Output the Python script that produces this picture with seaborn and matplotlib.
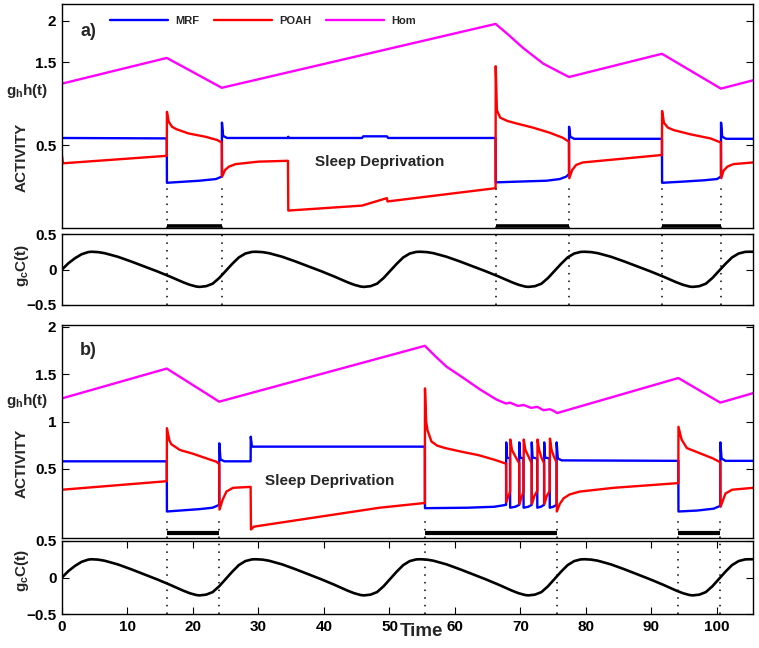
import pandas as pd
import matplotlib
matplotlib.use('Agg')
import matplotlib.pyplot as plt
import seaborn as sns

# ---------------------------------------------------------------
# values, (time, value) pairs
# ---------------------------------------------------------------

# circadian drive g_c C(t) (same in both panels)
circ = [(0, 0.0), (1, 0.09), (2, 0.16), (3, 0.215), (4, 0.245), (4.5, 0.25), (5.5, 0.245), (6.5, 0.23),
        (8.5, 0.18), (10.5, 0.115), (12.5, 0.045), (14.5, -0.025), (16.5, -0.10), (18.5, -0.18),
        (19.5, -0.215), (20.5, -0.24), (21.0, -0.245), (22.0, -0.235), (23.0, -0.20), (24.0, -0.12),
        (25.0, -0.02), (26.0, 0.08), (27.0, 0.17), (28.0, 0.225), (29.0, 0.248), (29.6, 0.25),
        (30.6, 0.245), (31.6, 0.23), (33.6, 0.18), (35.6, 0.115), (37.6, 0.045), (39.6, -0.025),
        (41.6, -0.10), (43.6, -0.18), (44.6, -0.215), (45.6, -0.24), (46.1, -0.245), (47.1, -0.235),
        (48.1, -0.20), (49.1, -0.12), (50.1, -0.02), (51.1, 0.08), (52.1, 0.17), (53.1, 0.225),
        (54.1, 0.248), (54.7, 0.25), (55.7, 0.245), (56.7, 0.23), (58.7, 0.18), (60.7, 0.115),
        (62.7, 0.045), (64.7, -0.025), (66.7, -0.10), (68.7, -0.18), (69.7, -0.215), (70.7, -0.24),
        (71.2, -0.245), (72.2, -0.235), (73.2, -0.20), (74.2, -0.12), (75.2, -0.02), (76.2, 0.08),
        (77.2, 0.17), (78.2, 0.225), (79.2, 0.248), (79.8, 0.25), (80.8, 0.245), (81.8, 0.23),
        (83.8, 0.18), (85.8, 0.115), (87.8, 0.045), (89.8, -0.025), (91.8, -0.10), (93.8, -0.18),
        (94.8, -0.215), (95.8, -0.24), (96.3, -0.245), (97.3, -0.235), (98.3, -0.20), (99.3, -0.12),
        (100.3, -0.02), (101.3, 0.08), (102.3, 0.17), (103.3, 0.225), (104.3, 0.248), (104.9, 0.25),
        (105.5, 0.25)]

# panel a)
a_hom = [(0, 1.24), (16.0, 1.55), (24.4, 1.19), (66.2, 1.96), (68.0, 1.84), (70.4, 1.67),
         (73.5, 1.48), (77.4, 1.32), (91.6, 1.60), (100.6, 1.18), (105.5, 1.28)]

a_mrf = [(0, 0.585), (16.0, 0.58), (16.02, 0.045), (18, 0.055), (21, 0.07), (23.5, 0.09), (24.4, 0.12),
         (24.42, 0.77), (24.6, 0.61), (25.2, 0.585), (34.5, 0.585), (34.55, 0.60), (34.6, 0.585),
         (45.8, 0.585), (46.0, 0.605), (49.6, 0.605), (49.8, 0.585), (66.2, 0.585), (66.22, 0.05),
         (70, 0.06), (74, 0.07), (76, 0.09), (77.0, 0.12), (77.4, 0.15), (77.42, 0.72), (77.6, 0.60),
         (78.2, 0.575), (91.6, 0.575), (91.62, 0.045), (95, 0.06), (98, 0.075), (100.0, 0.09),
         (100.6, 0.12), (100.62, 0.77), (100.8, 0.60), (101.4, 0.575), (105.5, 0.575)]

a_poah = [(0, 0.37), (0.15, 0.28), (16.0, 0.37), (16.02, 0.90), (16.3, 0.78), (16.8, 0.72), (17.5, 0.69),
          (19.3, 0.64), (21.9, 0.60), (23.7, 0.56), (24.4, 0.53), (24.45, 0.12), (24.9, 0.20),
          (25.5, 0.24), (26.5, 0.27), (30, 0.30), (34.5, 0.31), (34.55, -0.29), (45.8, -0.23),
          (49.6, -0.14), (49.7, -0.18), (66.2, -0.02), (66.22, 1.45), (66.4, 0.92), (66.9, 0.83),
          (68, 0.79), (69.4, 0.76), (71.9, 0.71), (74.4, 0.65), (76.4, 0.59), (77.4, 0.54),
          (77.45, 0.10), (77.9, 0.20), (78.5, 0.26), (79.5, 0.29), (91.6, 0.38), (91.62, 0.91),
          (91.9, 0.77), (92.5, 0.71), (93.4, 0.68), (95.9, 0.63), (99.0, 0.58), (100.6, 0.53),
          (100.65, 0.10), (101.0, 0.19), (101.6, 0.24), (102.5, 0.27), (105.5, 0.29)]

a_sleep = [(16.0, 24.4), (66.2, 77.4), (91.6, 100.6)]

# panel b)
b_hom = [(0, 1.245), (16.0, 1.56), (24.0, 1.21), (55.4, 1.80), (57.0, 1.69), (58.7, 1.58), (61.3, 1.46),
         (63.8, 1.34), (66.4, 1.23), (67.8, 1.19), (68.4, 1.20), (69.6, 1.165), (70.5, 1.175),
         (71.6, 1.145), (72.6, 1.155), (73.5, 1.12), (74.5, 1.13), (75.0, 1.115), (75.6, 1.09),
         (94.1, 1.46), (100.5, 1.20), (105.5, 1.30)]

b_mrf = [(0, 0.58), (16.0, 0.58), (16.02, 0.05), (18, 0.06), (21, 0.075), (23, 0.09), (24.0, 0.12),
         (24.02, 0.77), (24.2, 0.60), (24.8, 0.58), (28.8, 0.58), (28.82, 0.84), (29.0, 0.735),
         (55.4, 0.735), (55.42, 0.085), (62, 0.09), (66, 0.10), (67.8, 0.12),
         (67.82, 0.78), (67.95, 0.62), (68.4, 0.61), (68.42, 0.09), (69.2, 0.10), (69.8, 0.12),
         (69.82, 0.78), (69.95, 0.62), (70.45, 0.61), (70.47, 0.09), (71.2, 0.10), (71.7, 0.12),
         (71.72, 0.78), (71.85, 0.62), (72.55, 0.61), (72.57, 0.09), (73.1, 0.10), (73.6, 0.12),
         (73.62, 0.78), (73.75, 0.62), (74.45, 0.61), (74.47, 0.09), (75.0, 0.10), (75.5, 0.12),
         (75.52, 0.78), (75.7, 0.61), (76.3, 0.59), (94.1, 0.585), (94.12, 0.05), (97, 0.06),
         (99.5, 0.08), (100.5, 0.11), (100.52, 0.78), (100.7, 0.61), (101.3, 0.585), (105.5, 0.585)]

b_poah = [(0, 0.28), (16.0, 0.37), (16.02, 0.93), (16.4, 0.80), (16.7, 0.76), (18.0, 0.70), (20.0, 0.66),
          (22.1, 0.61), (23.6, 0.575), (24.0, 0.55), (24.05, 0.07), (24.5, 0.17), (25.1, 0.26),
          (26.1, 0.30), (28.8, 0.31), (28.85, -0.14), (29.3, -0.11), (48.5, 0.09), (55.4, 0.14),
          (55.42, 1.35), (55.6, 1.0), (55.8, 0.91), (56.4, 0.79), (57.3, 0.745), (58.5, 0.72),
          (61.1, 0.68), (63.6, 0.645), (66.1, 0.595), (67.8, 0.555),
          (67.85, 0.15), (68.2, 0.22), (68.42, 0.26), (68.45, 0.81), (68.7, 0.70), (69.3, 0.62),
          (69.8, 0.56), (69.85, 0.13), (70.2, 0.21), (70.47, 0.26), (70.5, 0.81), (70.75, 0.70),
          (71.3, 0.62), (71.7, 0.56), (71.75, 0.13), (72.1, 0.21), (72.57, 0.27), (72.6, 0.81),
          (72.85, 0.70), (73.2, 0.62), (73.6, 0.56), (73.65, 0.13), (74.0, 0.21), (74.47, 0.27),
          (74.5, 0.82), (74.75, 0.70), (75.1, 0.63), (75.5, 0.57), (75.55, 0.05), (76.0, 0.13),
          (76.6, 0.19), (77.5, 0.23), (79.0, 0.26), (84.2, 0.30), (94.1, 0.35), (94.12, 0.945),
          (94.6, 0.81), (95.4, 0.72), (97.4, 0.665), (99.4, 0.61), (100.5, 0.57), (100.55, 0.10),
          (101.3, 0.24), (102.3, 0.28), (105.5, 0.30)]

b_sleep = [(16.0, 24.0), (55.4, 75.6), (94.1, 100.5)]

series_names = ['MRF', 'POAH', 'Hom']
series_colors = ['#0000ff', '#ff0000', '#ff00ff']
x_ticks = [0, 10, 20, 30, 40, 50, 60, 70, 80, 90, 100]

# ---------------------------------------------------------------
# style
# ---------------------------------------------------------------
sns.set_theme(style='white')
plt.rcParams['font.family'] = ['Liberation Sans', 'DejaVu Sans']
plt.rcParams['font.weight'] = 'bold'
plt.rcParams['mathtext.fontset'] = 'custom'
plt.rcParams['mathtext.rm'] = 'Liberation Sans:bold'
plt.rcParams['mathtext.it'] = 'Liberation Sans:bold'
plt.rcParams['mathtext.bf'] = 'Liberation Sans:bold'
plt.rcParams['axes.edgecolor'] = 'black'
plt.rcParams['axes.linewidth'] = 1.0
plt.rcParams['xtick.color'] = 'black'
plt.rcParams['ytick.color'] = 'black'

fig = plt.figure(figsize=(7.59, 6.48), dpi=100)
L, W = 62 / 759, 691 / 759
ax_a = fig.add_axes([L, 1 - 228 / 648, W, 224 / 648])
ax_ac = fig.add_axes([L, 1 - 305 / 648, W, 71 / 648])
ax_b = fig.add_axes([L, 1 - 538 / 648, W, 213 / 648])
ax_bc = fig.add_axes([L, 1 - 614 / 648, W, 73 / 648])


def trace(ax, pairs, color, lw, label=None):
    df = pd.DataFrame(pairs, columns=['t', 'v'])
    sns.lineplot(data=df, x='t', y='v', ax=ax, color=color, lw=lw,
                 estimator=None, sort=False, label=label, legend=False)
    return ax.lines[-1]


def style_axis(ax, ylim, yticks, ylabels, show_x):
    ax.set_xlim(0, 105.5)
    ax.set_ylim(*ylim)
    ax.set_yticks(yticks)
    ax.set_yticklabels(ylabels)
    ax.set_xlabel('')
    ax.set_ylabel('')
    if show_x:
        ax.set_xticks(x_ticks)
        ax.set_xticklabels([str(v) for v in x_ticks])
    else:
        ax.set_xticks([])
    ax.tick_params(direction='in', length=5, width=0.8, labelsize=11, pad=4,
                   right=True, left=True, top=show_x, bottom=show_x)


# ---------------------------------------------------------------
# panel a
# ---------------------------------------------------------------
handles = []
for pairs, name, col in zip([a_mrf, a_poah, a_hom], series_names, series_colors):
    handles.append(trace(ax_a, pairs, col, 1.7, name))
trace(ax_ac, circ, 'black', 1.9)

for on, off in a_sleep:
    for t in (on, off):
        ax_a.vlines(t, -0.5, 0.0, colors='black', linestyles=(0, (1, 4)), lw=1.1)
        ax_ac.vlines(t, -0.5, 0.5, colors='black', linestyles=(0, (1, 4)), lw=1.1)
    ax_a.hlines(-0.48, on, off, colors='black', lw=2.6)

style_axis(ax_a, (-0.5, 2.2), [0.5, 1.5, 2], ['0.5', '1.5', '2'], False)
style_axis(ax_ac, (-0.5, 0.5), [-0.5, 0, 0.5], ['\u22120.5', '0', '0.5'], False)

ax_a.text(48.5, 0.29, 'Sleep Deprivation', ha='center', va='center', fontsize=11, fontweight='bold')
ax_a.text(0.038, 0.875, 'a)', transform=ax_a.transAxes, ha='center', va='center',
          fontsize=13, fontweight='bold')
ax_a.legend(handles=handles, loc='center left', bbox_to_anchor=(0.0695, 0.924), ncol=3,
            frameon=False, handlelength=5.2, handletextpad=0.7, columnspacing=1.3,
            borderpad=0, borderaxespad=0, prop=dict(size=8, weight='bold'))

# ---------------------------------------------------------------
# panel b
# ---------------------------------------------------------------
for pairs, name, col in zip([b_mrf, b_poah, b_hom], series_names, series_colors):
    trace(ax_b, pairs, col, 1.7, name)
trace(ax_bc, circ, 'black', 1.9)

for on, off in b_sleep:
    for t in (on, off):
        ax_b.vlines(t, -0.23, -0.04, colors='black', linestyles=(0, (1, 4)), lw=1.1)
        ax_bc.vlines(t, -0.5, 0.5, colors='black', linestyles=(0, (1, 4)), lw=1.1)
    ax_b.hlines(-0.175, on, off, colors='black', lw=3)

style_axis(ax_b, (-0.23, 2.02), [0.5, 1, 1.5, 2], ['0.5', '1', '1.5', '2'], False)
style_axis(ax_bc, (-0.5, 0.5), [-0.5, 0, 0.5], ['\u22120.5', '0', '0.5'], True)

ax_b.text(40.9, 0.37, 'Sleep Deprivation', ha='center', va='center', fontsize=11, fontweight='bold')
ax_b.text(0.038, 0.878, 'b)', transform=ax_b.transAxes, ha='center', va='center',
          fontsize=13, fontweight='bold')

# ---------------------------------------------------------------
# side labels and x label
# ---------------------------------------------------------------
for yc in (91, 401):
    fig.text(6 / 759, 1 - yc / 648, r'g$_h$h(t)', ha='left', va='center', fontsize=11, fontweight='bold')
for yc in (157, 463):
    fig.text(22 / 759, 1 - yc / 648, 'ACTIVITY', rotation=90, ha='center', va='center',
             fontsize=11, fontweight='bold')
for yc in (265, 570):
    fig.text(22 / 759, 1 - yc / 648, r'g$_c$C(t)', rotation=90, ha='center', va='center',
             fontsize=11, fontweight='bold')

fig.text(421 / 759, 1 - 632 / 648, 'Time', ha='center', va='center', fontsize=13.5, fontweight='bold')

fig.savefig('out.png', dpi=100)
